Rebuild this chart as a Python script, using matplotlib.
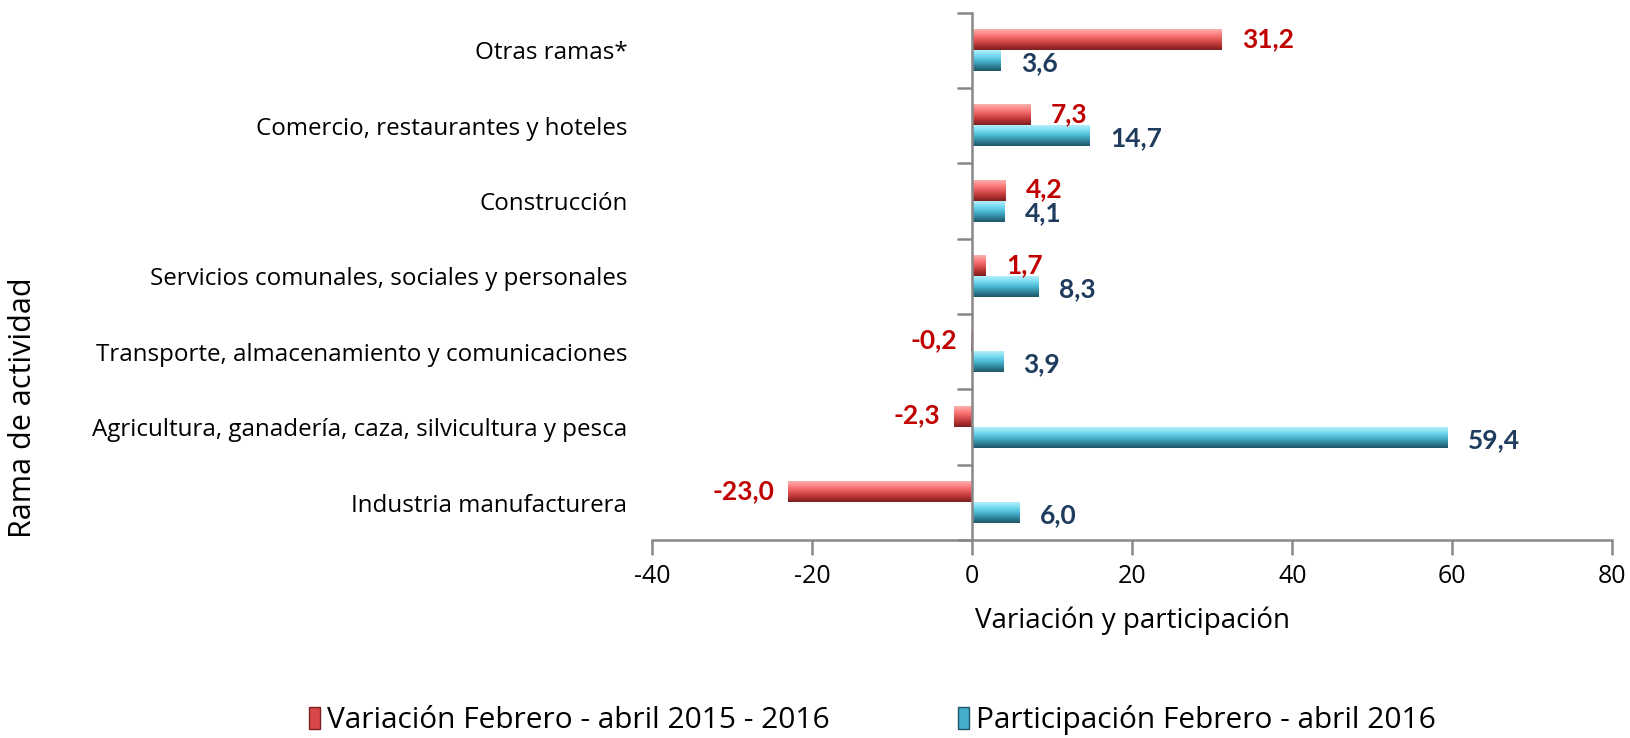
import numpy as np
import matplotlib
matplotlib.use("Agg")
import matplotlib.pyplot as plt
from matplotlib.colors import LinearSegmentedColormap
from matplotlib.patches import Patch

plt.rcParams['font.family'] = ['Open Sans', 'DejaVu Sans']

# ramas de actividad, de abajo hacia arriba
ramas = ["Industria manufacturera",
         "Agricultura, ganadería, caza, silvicultura y pesca",
         "Transporte, almacenamiento y comunicaciones",
         "Servicios comunales, sociales y personales",
         "Construcción",
         "Comercio, restaurantes y hoteles",
         "Otras ramas*"]
variacion = [-23.0, -2.3, -0.2, 1.7, 4.2, 7.3, 31.2]
participacion = [6.0, 59.4, 3.9, 8.3, 4.1, 14.7, 3.6]
etiquetas_x = [-40, -20, 0, 20, 40, 60, 80]

serie_var = "Variación Febrero - abril 2015 - 2016"
serie_par = "Participación Febrero - abril 2016"

rojo = LinearSegmentedColormap.from_list("rojo", ["#f7b0b0", "#ff8080", "#e25858", "#b83434", "#7c2020"])
azul = LinearSegmentedColormap.from_list("azul", ["#b4eefa", "#78dcf2", "#4cb8d4", "#31869d", "#1f5768"])
gris = "#888888"

fig = plt.figure(figsize=(16.31, 7.38), dpi=100)
ax = fig.add_axes([0.400, 0.268, 0.5885, 0.715])

xmin, xmax = -40, 80
ymin, ymax = -0.5, len(ramas) - 0.5
ax.set_xlim(xmin, xmax)
ax.set_ylim(ymin, ymax)

h = 0.27
grad = np.linspace(0, 1, 64).reshape(-1, 1)


def barra(x0, w, yc, cmap):
    # barra con degradado vertical (claro arriba, oscuro abajo)
    x1 = x0 + w
    ax.imshow(grad, cmap=cmap, aspect='auto', origin='upper',
              extent=(min(x0, x1), max(x0, x1), yc - h / 2, yc + h / 2), zorder=3)


val_font = dict(family=['Lato', 'DejaVu Sans'], fontsize=19, fontweight='bold')

for i, (v, p) in enumerate(zip(variacion, participacion)):
    yr = i + 0.14
    yb = i - 0.14
    barra(0, v, yr, rojo)
    barra(0, p, yb, azul)
    txt_v = f"{v:.1f}".replace(".", ",")
    txt_p = f"{p:.1f}".replace(".", ",")
    if v >= 0:
        ax.annotate(txt_v, (v, yr), xytext=(20, 1), textcoords='offset pixels',
                    ha='left', va='center', color="#c00000", **val_font)
    else:
        ax.annotate(txt_v, (v, yr), xytext=(-14, 1), textcoords='offset pixels',
                    ha='right', va='center', color="#c00000", **val_font)
    ax.annotate(txt_p, (p, yb), xytext=(20, -2), textcoords='offset pixels',
                ha='left', va='center', color="#1f3b5e", **val_font)

ax.set_xlim(xmin, xmax)
ax.set_ylim(ymin, ymax)

ax.set_yticks(range(len(ramas)))
ax.set_yticklabels(ramas, fontsize=17.4)
ax.tick_params(axis='y', length=0, pad=18)
ax.set_xticks(etiquetas_x)
ax.set_xticklabels([str(t) for t in etiquetas_x], fontsize=18)
ax.tick_params(axis='x', direction='out', length=11, width=1.8, color=gris, pad=6)

for s in ['left', 'top', 'right']:
    ax.spines[s].set_visible(False)
ax.spines['bottom'].set_color(gris)
ax.spines['bottom'].set_linewidth(1.8)

# eje vertical en x = 0 con marcas entre categorías
eje0 = ax.secondary_yaxis((0 - xmin) / (xmax - xmin))
eje0.set_yticks(np.arange(ymin, ymax + 0.01, 1.0))
eje0.set_yticklabels([])
eje0.tick_params(direction='out', length=11, width=1.8, color=gris)
eje0.spines['left'].set_color(gris)
eje0.spines['left'].set_linewidth(1.8)
eje0.set_zorder(4)

ax.set_xlabel("Variación y participación", fontsize=20, labelpad=13)
fig.text(0.014, 0.448, "Rama de actividad", rotation=90, ha='center', va='center', fontsize=22)

handles = [Patch(facecolor="#d94848", edgecolor="#7c2020", label=serie_var),
           Patch(facecolor="#45afcb", edgecolor="#1f5768", label=serie_par)]
fig.legend(handles=handles, loc='center', bbox_to_anchor=(0.535, 0.024), ncol=2,
           frameon=False, fontsize=21.5, handlelength=0.35, handleheight=0.75,
           handletextpad=0.25, columnspacing=4.3)

fig.savefig("out.png", dpi=100)
